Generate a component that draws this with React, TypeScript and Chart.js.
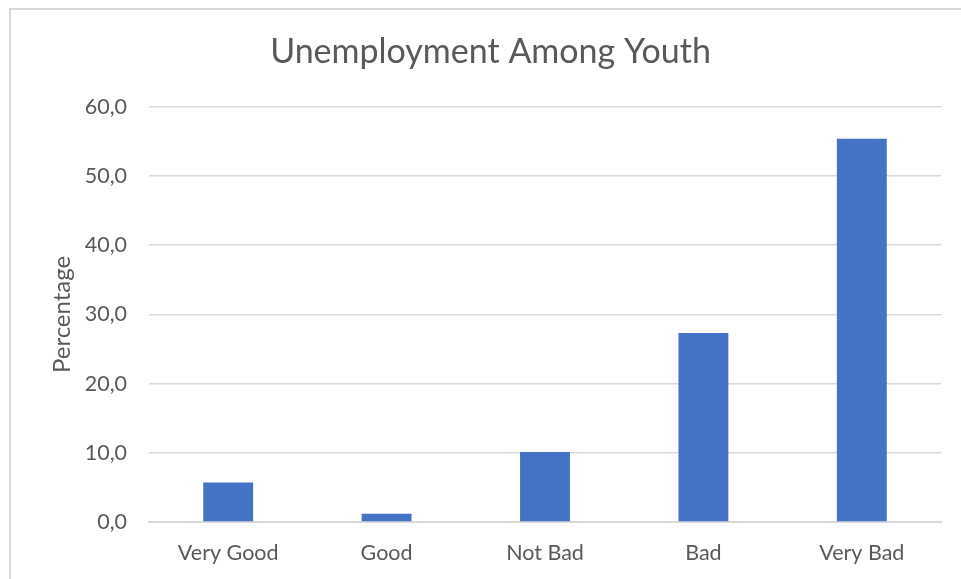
import React, { useEffect, useRef } from "react";
import { Chart, registerables } from "chart.js";

Chart.register(...registerables);

const categories = ["Very Good", "Good", "Not Bad", "Bad", "Very Bad"];
const percentages = [5.7, 1.2, 10.1, 27.3, 55.4];
const yTicks = [0, 10, 20, 30, 40, 50, 60];

const TEXT = "#595959";
const FONT = "Lato, 'Open Sans', sans-serif";

export default function App() {
  const ref = useRef<HTMLCanvasElement | null>(null);

  useEffect(() => {
    if (!ref.current) return;
    const chart = new Chart(ref.current, {
      type: "bar",
      data: {
        labels: categories,
        datasets: [
          {
            label: "Percentage",
            data: percentages,
            backgroundColor: "#4472C4",
            borderWidth: 0,
            barPercentage: 0.63,
            categoryPercentage: 0.5,
          },
        ],
      },
      options: {
        responsive: false,
        animation: false,
        layout: { padding: { left: 40, right: 20, top: 20, bottom: 14 } },
        plugins: {
          legend: { display: false },
          tooltip: { enabled: false },
          title: {
            display: true,
            text: "Unemployment Among Youth",
            color: TEXT,
            font: { family: FONT, size: 34, weight: "normal" },
            padding: { top: 12, bottom: 34 },
          },
        },
        scales: {
          x: {
            grid: { display: false, drawTicks: false },
            border: { display: true, color: "#d9d9d9", width: 2 },
            afterFit: (scale: any) => {
              scale.height = 43;
            },
            ticks: {
              color: TEXT,
              font: { family: FONT, size: 21.5 },
              padding: 18,
            },
          },
          y: {
            min: 0,
            max: 60,
            afterBuildTicks: (scale: any) => {
              scale.ticks = yTicks.map((v) => ({ value: v }));
            },
            afterFit: (scale: any) => {
              scale.width = 109;
            },
            grid: { color: "#d9d9d9", lineWidth: 1.5, drawTicks: false },
            border: { display: false },
            ticks: {
              color: TEXT,
              font: { family: FONT, size: 21.5 },
              padding: 22,
              callback: (v: any) => Number(v).toFixed(1).replace(".", ","),
            },
            title: {
              display: true,
              text: "Percentage",
              color: TEXT,
              font: { family: FONT, size: 24 },
              padding: { top: 8, bottom: 0 },
            },
          },
        },
      },
    });
    return () => chart.destroy();
  }, []);

  return (
    <div style={{ position: "fixed", left: 0, top: 0, width: 961, height: 579, background: "#fff", overflow: "hidden" }}>
      <div
        style={{
          position: "absolute",
          left: 9,
          top: 8,
          width: 960,
          height: 580,
          borderLeft: "2px solid #d9d9d9",
          borderTop: "2px solid #d9d9d9",
        }}
      />
      <canvas ref={ref} width={961} height={579} style={{ position: "absolute", left: 0, top: 0 }} />
    </div>
  );
}
